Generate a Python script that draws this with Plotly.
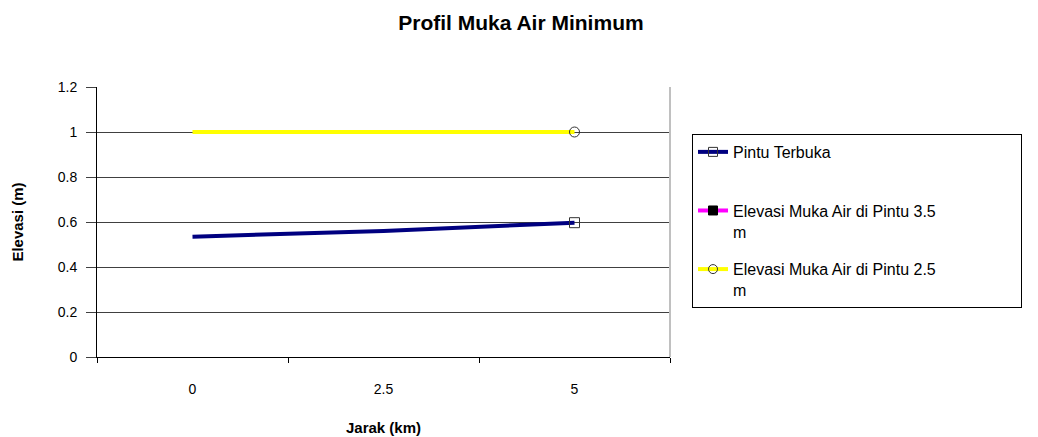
import plotly.graph_objects as go

FONT = "Liberation Sans, Arial, sans-serif"

# data
jarak = ["0", "2.5", "5"]
pintu_terbuka = [0.535, 0.56, 0.597]
pintu_35 = [None, None, None]
pintu_25 = [1.0, 1.0, 1.0]

PAD = "&nbsp;" * 18
series = [
    ("Pintu Terbuka<br>&nbsp;", pintu_terbuka, "#000080", "square-open", "#333333"),
    ("Elevasi Muka Air di Pintu 3.5" + PAD + "<br>m", pintu_35, "#FF00FF", "square", "#000000"),
    ("Elevasi Muka Air di Pintu 2.5" + PAD + "<br>m", pintu_25, "#FFFF00", "circle-open", "#333333"),
]

fig = go.Figure()
for i, (name, vals, color, sym, mcol) in enumerate(series):
    # line
    fig.add_scatter(
        x=jarak, y=vals, mode="lines", showlegend=False,
        line=dict(color=color, width=4),
    )
    # marker only on the last point
    fig.add_scatter(
        x=jarak[-1:], y=vals[-1:], mode="markers", showlegend=False,
        marker=dict(symbol=sym, size=10, color=mcol, line=dict(color=mcol, width=1)),
    )
    # legend entry
    fig.add_scatter(
        x=[None], y=[None], mode="lines+markers", name=name,
        legendgroup=f"g{i}",
        line=dict(color=color, width=4),
        marker=dict(symbol=sym, size=9, color=mcol, line=dict(color=mcol, width=1)),
    )

# page has an 8px body margin, so the figure is 8px smaller each way
fig.update_layout(
    width=1030, height=429,
    title=dict(text="<b>Profil Muka Air Minimum</b>", x=0.498, xanchor="center",
               y=0.967, yanchor="middle", font=dict(family=FONT, size=21, color="#000")),
    font=dict(family=FONT, size=14, color="#000"),
    plot_bgcolor="white", paper_bgcolor="white",
    margin=dict(l=89, r=368, t=79, b=80, autoexpand=False),
    xaxis=dict(
        type="category", range=[-0.5, 2.5], tickson="boundaries",
        ticks="outside", ticklen=5, tickcolor="#000",
        showline=True, linecolor="#000", linewidth=1,
        showgrid=False, zeroline=False, ticklabelstandoff=19,
        automargin=False,
        title=dict(text="<b>Jarak (km)</b>", font=dict(size=15), standoff=26),
        tickfont=dict(size=14),
    ),
    yaxis=dict(
        range=[0, 1.2], dtick=0.2, ticks="outside", ticklen=10, tickcolor="#404040",
        showline=True, linecolor="#000", linewidth=1,
        showgrid=True, gridcolor="#404040", gridwidth=1, zeroline=False,
        ticklabelstandoff=6, automargin=False,
        title=dict(text="<b>Elevasi (m)</b>", font=dict(size=15), standoff=30),
        tickfont=dict(size=14),
    ),
    legend=dict(
        x=1.0384, xanchor="left", y=0.826, yanchor="top",
        bordercolor="#000", borderwidth=1, bgcolor="white",
        font=dict(family=FONT, size=16), valign="top",
        tracegroupgap=14, traceorder="grouped",
    ),
)
# right border of plot area
fig.add_shape(type="line", xref="paper", yref="paper", x0=1, x1=1, y0=0, y1=1,
              line=dict(color="#c0c0c0", width=2))

fig.write_html("out.html")
